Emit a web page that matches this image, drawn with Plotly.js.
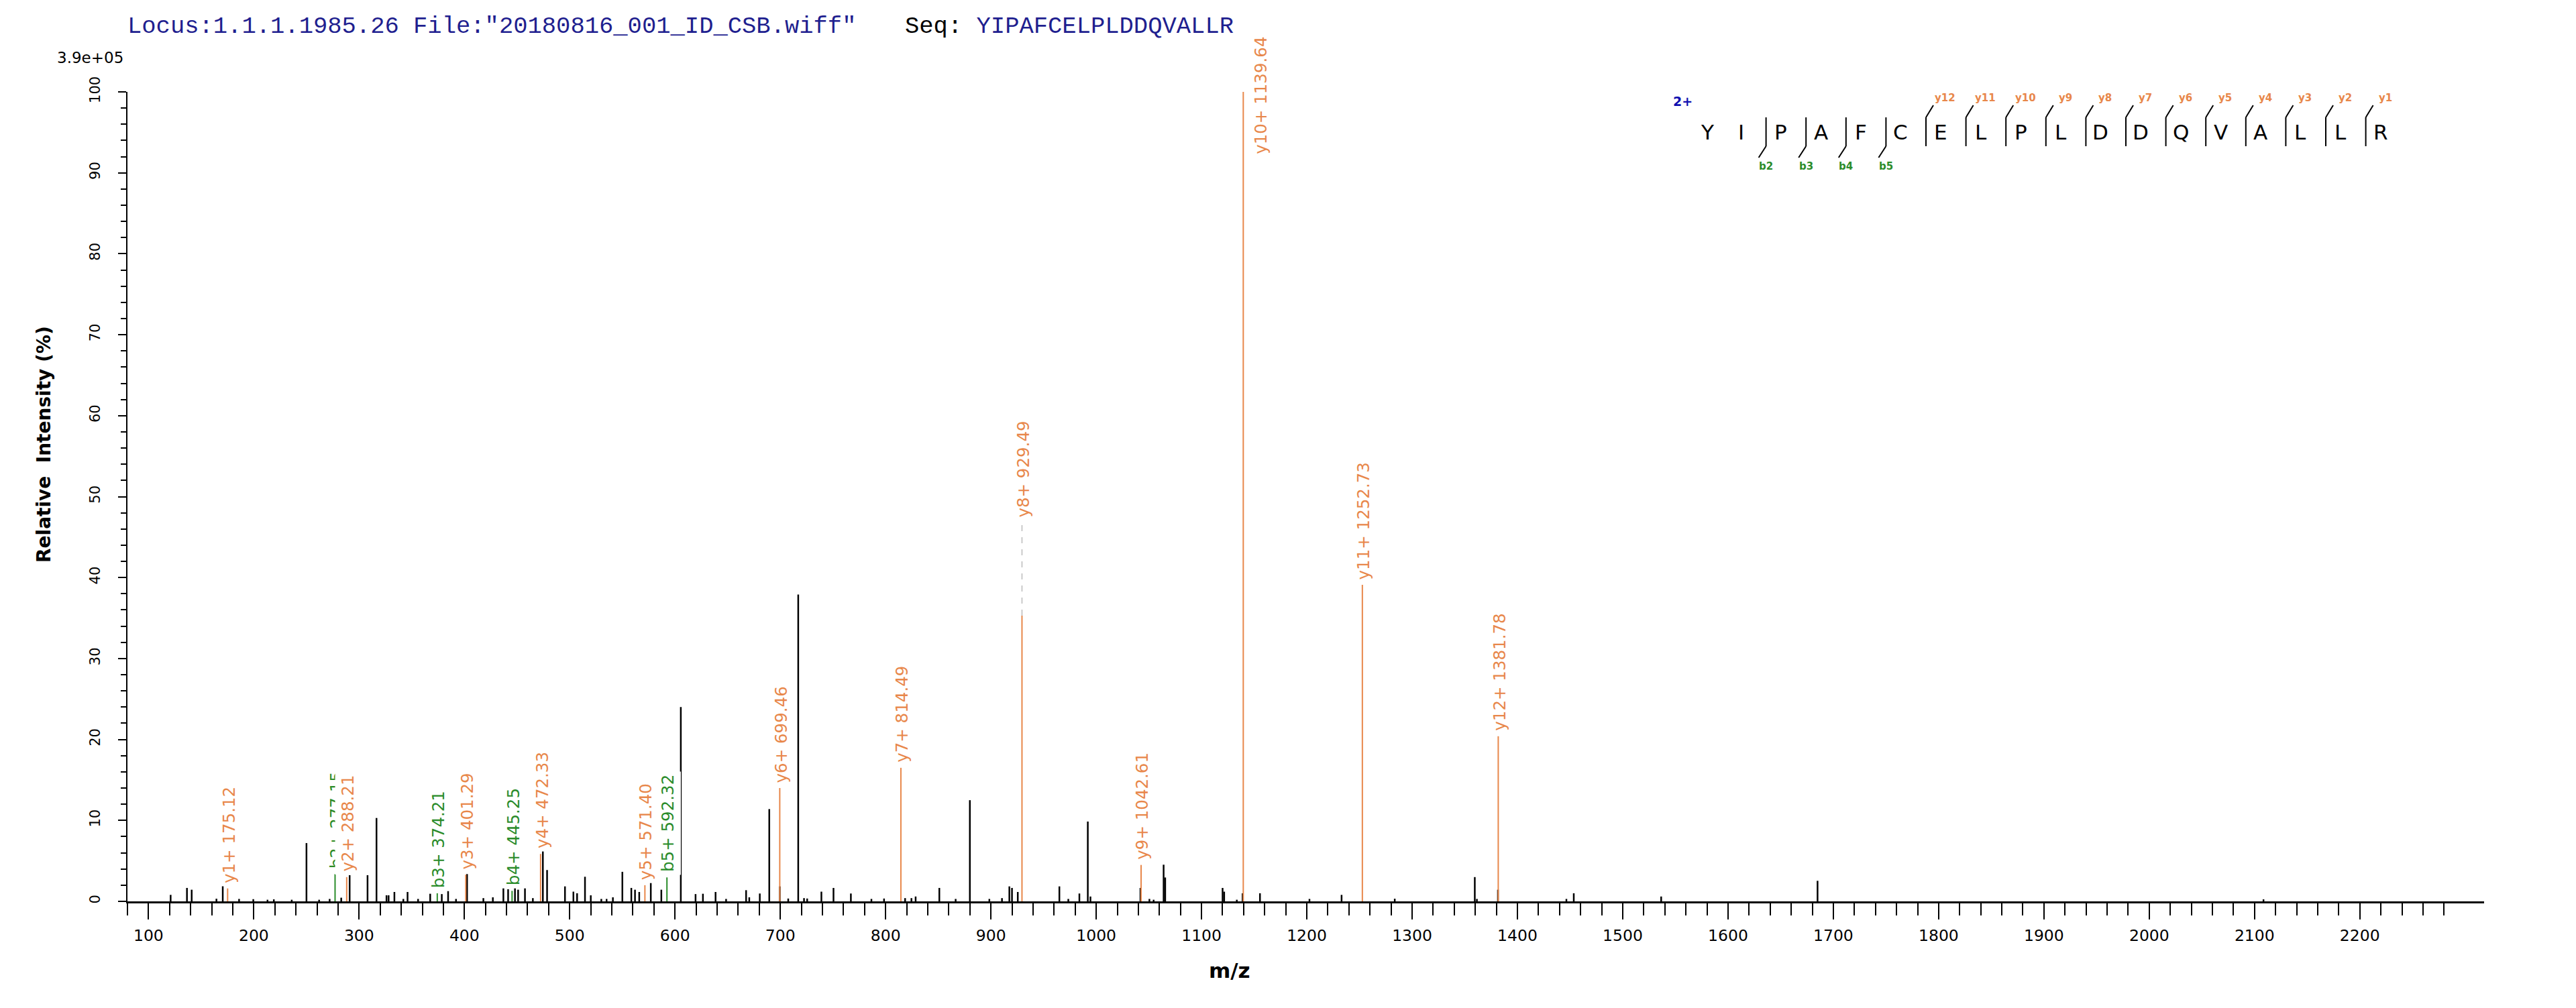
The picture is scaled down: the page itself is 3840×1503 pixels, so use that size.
<!DOCTYPE html>
<html><head><meta charset="utf-8">
<script src="https://cdn.plot.ly/plotly-3.0.1.min.js"></script>
<style>html,body{margin:0;padding:0;background:#fff}</style>
</head><body><div id="chart" style="width:3840px;height:1503px"></div>
<script>
// ---------------- DATA ----------------
const headerLocus = 'Locus:1.1.1.1985.26 File:"20180816_001_ID_CSB.wiff"';
const headerSeqLabel = 'Seq:';
const sequence = 'YIPAFCELPLDDQVALLR';
const precursorCharge = '2+';
const scaleLabel = '3.9e+05';
const xTitle = 'm/z';
const yTitle = 'Relative\u00A0 Intensity (%)';

// unannotated peaks (black)
const peakMz = [121, 136.5, 141, 164.5, 170.5, 186, 199.5, 213, 219, 236, 250, 262, 272, 283, 291, 308, 316.5,
  326, 328, 333.5, 342, 346, 356, 367.5, 378.5, 384.5, 392, 402.5, 418, 427, 437, 441.5, 448, 451, 457.5, 465,
  474.5, 478.5, 495.5, 503.5, 507, 514.5, 520, 530, 535, 541, 550, 558.5, 562, 566, 577, 587, 605.5, 619.5, 626.5,
  638.5, 648.5, 667.5, 670.5, 680.5, 689.5, 699.5, 707.5, 717, 722.5, 725.5, 739, 750.5, 767, 786.5, 798.5, 818.5, 824.5, 828.5, 851,
  866.5, 880, 898.5, 910.5, 917.5, 920, 925.5, 965, 973.5, 984, 992, 994.5, 1042, 1050.5, 1054.5, 1064, 1065.5,
  1120, 1121.5, 1133.5, 1139, 1155.5, 1202.5, 1233, 1283.5, 1359.5, 1361.5, 1381.5, 1446.5, 1453.5, 1536.5, 1685, 2108.5];
const peakIntensity = [0.8, 1.66, 1.44, 0.33, 2.13, 0.3, 0.27, 0.2, 0.25, 0.2, 7.2, 0.2, 0.3, 0.45, 3.23, 3.23, 10.3,
  0.75, 0.75, 1.16, 0.3, 1.16, 0.3, 0.94, 0.9, 1.44, 0.3, 3.37, 0.4, 0.5, 1.85, 1.5, 1.85, 1.44, 1.85, 0.4,
  6.27, 3.87, 1.85, 1.2, 1.0, 3.04, 0.75, 0.3, 0.3, 0.5, 3.65, 1.66, 1.44, 1.16, 2.54, 1.44, 24.0, 0.9, 0.94,
  1.16, 0.3, 1.38, 0.5, 0.97, 11.4, 1.85, 0.35, 37.9, 0.4, 0.35, 1.2, 1.66, 0.97, 0.3, 0.35, 0.4, 0.4, 0.6, 1.66,
  0.3, 12.5, 0.3, 0.4, 1.85, 1.66, 1.16, 1.85, 0.3, 0.97, 9.86, 0.6, 1.66, 0.3, 0.2, 4.53, 2.95,
  1.66, 1.2, 0.2, 1.0, 1.0, 0.3, 0.8, 0.33, 3.0, 0.3, 1.44, 0.3, 1.0, 0.6, 2.54, 0.25];

// annotated fragment ions
const ionNames = ['y1+', 'b2+', 'y2+', 'b3+', 'y3+', 'b4+', 'y4+', 'y5+', 'b5+', 'y6+', 'y7+', 'y8+', 'y9+', 'y10+', 'y11+', 'y12+'];
const ionMz = [175.12, 277.15, 288.21, 374.21, 401.29, 445.25, 472.33, 571.40, 592.32, 699.46, 814.49, 929.49, 1042.61, 1139.64, 1252.73, 1381.78];
const ionIntensity = [1.6, 3.37, 3.0, 1.0, 3.3, 1.3, 5.86, 2.0, 2.96, 14.0, 16.5, 35.3, 4.5, 100, 39.1, 20.4];

// ion ladder in the sequence map
const yIonNumbers = [12, 11, 10, 9, 8, 7, 6, 5, 4, 3, 2, 1];
const bIonNumbers = [2, 3, 4, 5];

const xTickVals = [100, 200, 300, 400, 500, 600, 700, 800, 900, 1000, 1100, 1200, 1300, 1400, 1500, 1600, 1700, 1800, 1900, 2000, 2100, 2200];
const yTickVals = [0, 10, 20, 30, 40, 50, 60, 70, 80, 90, 100];

// ---------------- STYLE ----------------
const W = 3840, H = 1503;
const M = {l: 190, r: 137, t: 137, b: 159};
const PW = W - M.l - M.r, PH = H - M.t - M.b;
const px = x => (x - M.l) / PW;
const py = y => (H - M.b - y) / PH;
const ORANGE = '#E8874A', GREEN = '#2A8C2A', NAVY = '#1F1F8F';
const FONT = '"DejaVu Sans", Verdana, sans-serif';
const MONO = '"Liberation Mono", "Courier New", monospace';
const labelPlacement = { 'y10+': {xshift: 26, yshift: -98}, 'y8+': {lift: 11.5} };

// ---------------- TRACES ----------------
function sticks(xs, ys) {
  const x = [], y = [];
  xs.forEach((m, i) => { x.push(m, m, null); y.push(0, ys[i], null); });
  return {x, y};
}
const black = sticks(peakMz, peakIntensity);
const yIdx = ionNames.map((n, i) => n[0] === 'y' ? i : -1).filter(i => i >= 0);
const bIdx = ionNames.map((n, i) => n[0] === 'b' ? i : -1).filter(i => i >= 0);
const ySt = sticks(yIdx.map(i => ionMz[i]), yIdx.map(i => ionIntensity[i]));
const bSt = sticks(bIdx.map(i => ionMz[i]), bIdx.map(i => ionIntensity[i]));

const traces = [
  {type: 'scatter', mode: 'lines', x: black.x, y: black.y, line: {color: '#000', width: 2.5}, hoverinfo: 'skip', showlegend: false},
  {type: 'scatter', mode: 'lines', x: ySt.x, y: ySt.y, line: {color: ORANGE, width: 2}, hoverinfo: 'skip', showlegend: false},
  {type: 'scatter', mode: 'lines', x: bSt.x, y: bSt.y, line: {color: GREEN, width: 2}, hoverinfo: 'skip', showlegend: false}
];

// ---------------- ANNOTATIONS ----------------
const annotations = [];
const shapes = [];

ionNames.forEach((name, i) => {
  const p = labelPlacement[name] || {};
  const lift = p.lift || 0;
  if (lift) {
    shapes.push({type: 'line', xref: 'x', yref: 'y', x0: ionMz[i], x1: ionMz[i], y0: ionIntensity[i], y1: ionIntensity[i] + lift,
      line: {color: '#BBBBBB', width: 1.5, dash: 'dash'}});
  }
  annotations.push({
    xref: 'x', yref: 'y', x: ionMz[i], y: ionIntensity[i] + lift,
    text: name + ' ' + ionMz[i].toFixed(2), showarrow: false, textangle: -90,
    xanchor: 'center', yanchor: 'bottom', xshift: p.xshift || 2, yshift: (p.yshift !== undefined ? p.yshift : 3),
    bgcolor: '#FFFFFF', borderpad: 4,
    font: {family: FONT, size: 24.5, color: name[0] === 'y' ? ORANGE : GREEN}
  });
});

// header
annotations.push({xref: 'paper', yref: 'paper', x: px(188), y: py(40), xanchor: 'left', yanchor: 'middle', showarrow: false,
  text: headerLocus, font: {family: MONO, size: 35.5, color: NAVY}});
annotations.push({xref: 'paper', yref: 'paper', x: px(1347), y: py(40), xanchor: 'left', yanchor: 'middle', showarrow: false,
  text: headerSeqLabel + ' <span style="color:' + NAVY + '">' + sequence + '</span>',
  font: {family: MONO, size: 35.5, color: '#000'}});
// scale
annotations.push({xref: 'paper', yref: 'paper', x: px(186), y: py(86), xanchor: 'right', yanchor: 'middle', showarrow: false,
  text: scaleLabel, font: {family: FONT, size: 23, color: '#000'}});
// axis titles
annotations.push({xref: 'paper', yref: 'paper', x: px(65), y: py(662), xanchor: 'center', yanchor: 'middle', showarrow: false,
  textangle: -90, text: '<b>' + yTitle + '</b>', font: {family: FONT, size: 28, color: '#000'}});
annotations.push({xref: 'paper', yref: 'paper', x: px(1833), y: py(1447), xanchor: 'center', yanchor: 'middle', showarrow: false,
  text: '<b>' + xTitle + '</b>', font: {family: FONT, size: 31, color: '#000'}});

// sequence map
const seq = sequence.split('');
const Lseq = seq.length;
const breaks = {};
yIonNumbers.forEach(n => { breaks[Lseq - n - 1] = {type: 'y', n}; });
bIonNumbers.forEach(n => { breaks[n - 1] = {type: 'b', n}; });
const S = {x0: 2545, stepPlain: 50, stepBreak: 59.6, yLetter: 197, divTop: 175, divBottom: 218, divOffset: 22};
const letterX = [S.x0];
for (let i = 1; i < Lseq; i++) letterX.push(letterX[i - 1] + (breaks[i - 1] ? S.stepBreak : S.stepPlain));
seq.forEach((ch, i) => {
  annotations.push({xref: 'paper', yref: 'paper', x: px(letterX[i]), y: py(S.yLetter), xanchor: 'center', yanchor: 'middle',
    showarrow: false, text: ch, font: {family: FONT, size: 31, color: '#000'}});
});
Object.keys(breaks).forEach(k => {
  const br = breaks[k];
  const xd = letterX[+k + 1] - S.divOffset;
  shapes.push({type: 'line', xref: 'paper', yref: 'paper', x0: px(xd), x1: px(xd), y0: py(S.divTop), y1: py(S.divBottom),
    line: {color: '#000', width: 2}});
  if (br.type === 'y') {
    shapes.push({type: 'line', xref: 'paper', yref: 'paper', x0: px(xd), x1: px(xd + 11), y0: py(S.divTop), y1: py(S.divTop - 18),
      line: {color: '#000', width: 2}});
    annotations.push({xref: 'paper', yref: 'paper', x: px(xd + 29), y: py(146), xanchor: 'center', yanchor: 'middle', showarrow: false,
      text: '<b>y' + br.n + '</b>', font: {family: FONT, size: 15, color: ORANGE}});
  } else {
    shapes.push({type: 'line', xref: 'paper', yref: 'paper', x0: px(xd), x1: px(xd - 11), y0: py(S.divBottom), y1: py(S.divBottom + 17),
      line: {color: '#000', width: 2}});
    annotations.push({xref: 'paper', yref: 'paper', x: px(xd), y: py(248), xanchor: 'center', yanchor: 'middle', showarrow: false,
      text: '<b>b' + br.n + '</b>', font: {family: FONT, size: 15, color: GREEN}});
  }
});
annotations.push({xref: 'paper', yref: 'paper', x: px(2508), y: py(151), xanchor: 'center', yanchor: 'middle', showarrow: false,
  text: '<b>' + precursorCharge + '</b>', font: {family: FONT, size: 19, color: '#1010B0'}});

// ---------------- LAYOUT ----------------
const xMinor = [];
for (let v = 80; v <= 2280; v += 20) xMinor.push(v);

const layout = {
  width: W, height: H,
  margin: M,
  paper_bgcolor: '#fff', plot_bgcolor: '#fff',
  showlegend: false,
  font: {family: FONT, color: '#000'},
  xaxis: {
    range: [80, 2318], showgrid: false, zeroline: false,
    showline: true, linecolor: '#000', linewidth: 2.5,
    ticks: 'outside', ticklen: 24, tickwidth: 2, tickcolor: '#000',
    tickmode: 'array', tickvals: xTickVals, ticktext: xTickVals.map(String),
    tickfont: {family: FONT, size: 23.5, color: '#000'}, ticklabelstandoff: 4,
    minor: {tickmode: 'array', tickvals: xMinor, ticks: 'outside', ticklen: 18, tickwidth: 2, tickcolor: '#000', showgrid: false}
  },
  yaxis: {
    range: [0, 100], showgrid: false, zeroline: false,
    showline: true, linecolor: '#000', linewidth: 2.5,
    ticks: 'outside', ticklen: 12, tickwidth: 2, tickcolor: '#000',
    tickmode: 'array', tickvals: yTickVals, ticktext: yTickVals.map(String), tickangle: -90,
    tickfont: {family: FONT, size: 21, color: '#000'}, ticklabelstandoff: 18,
    minor: {dtick: 2, tick0: 0, ticks: 'outside', ticklen: 8, tickwidth: 2, tickcolor: '#000', showgrid: false}
  },
  annotations: annotations,
  shapes: shapes
};

Plotly.newPlot('chart', traces, layout, {staticPlot: true, displayModeBar: false});
</script>
</body></html>
